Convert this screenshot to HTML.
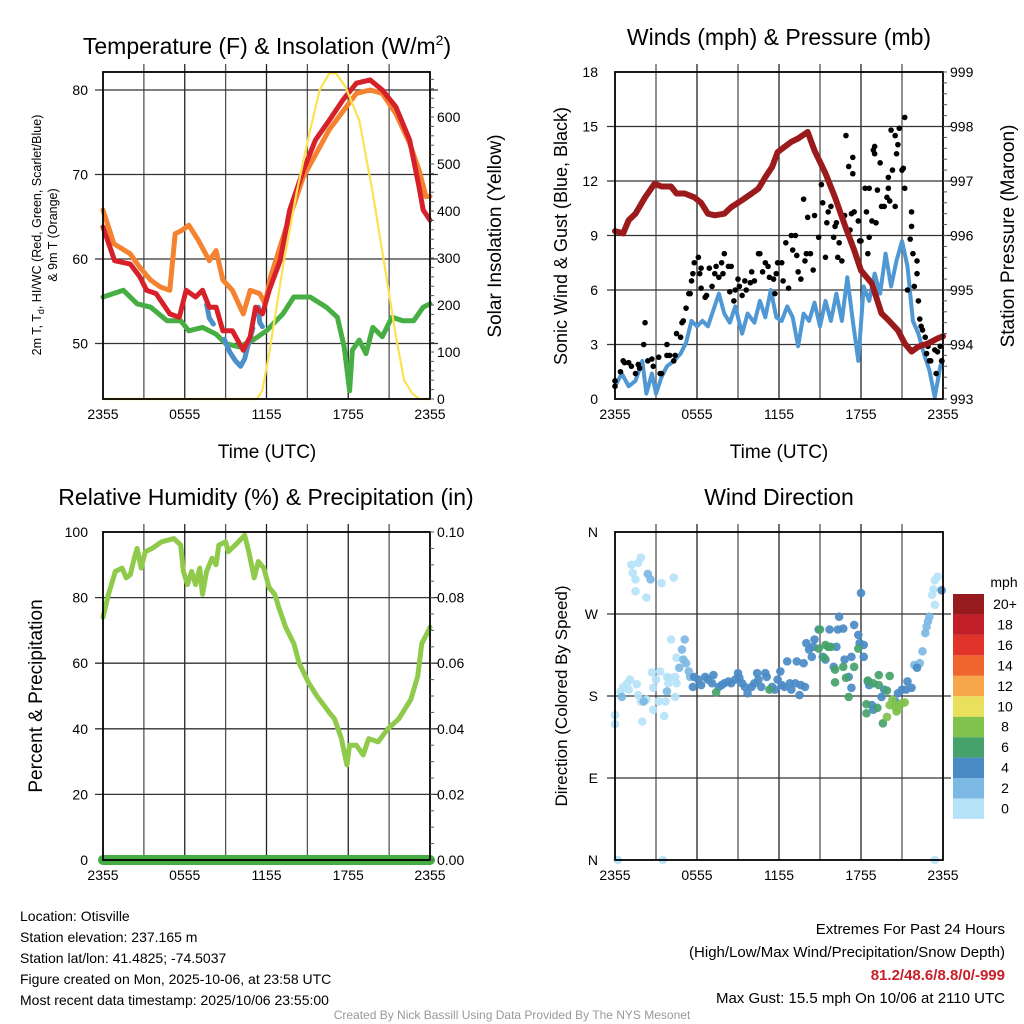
<!DOCTYPE html>
<html><head><meta charset="utf-8"><style>
html,body{margin:0;padding:0;background:#fff;}
svg{display:block;font-family:"Liberation Sans",Arial,sans-serif;}
</style></head><body>
<svg id="chart" width="1024" height="1024" viewBox="0 0 1024 1024" xmlns="http://www.w3.org/2000/svg">
<rect x="0" y="0" width="1024" height="1024" fill="#fff"/>
<g id="grid"></g><g id="series"></g><g id="axes"></g>
<!-- titles -->
<text x="267" y="54" font-size="23" text-anchor="middle">Temperature (F) &amp; Insolation (W/m<tspan dy="-9" font-size="14">2</tspan><tspan dy="9">)</tspan></text>
<text x="779" y="45" font-size="23" text-anchor="middle">Winds (mph) &amp; Pressure (mb)</text>
<text x="266" y="505" font-size="23" text-anchor="middle">Relative Humidity (%) &amp; Precipitation (in)</text>
<text x="779" y="505" font-size="23" text-anchor="middle">Wind Direction</text>
<!-- x titles -->
<text x="267" y="458" font-size="19" text-anchor="middle">Time (UTC)</text>
<text x="779" y="458" font-size="19" text-anchor="middle">Time (UTC)</text>
<!-- y titles -->
<text transform="translate(41,235) rotate(-90)" font-size="12.5" text-anchor="middle">2m T, T<tspan dy="3" font-size="9">d</tspan><tspan dy="-3">, HI/WC (Red, Green, Scarlet/Blue)</tspan></text>
<text transform="translate(57,235) rotate(-90)" font-size="12.5" text-anchor="middle">&amp; 9m T (Orange)</text>
<text transform="translate(501,236) rotate(-90)" font-size="19" text-anchor="middle">Solar Insolation (Yellow)</text>
<text transform="translate(567,236) rotate(-90)" font-size="18" text-anchor="middle">Sonic Wind &amp; Gust (Blue, Black)</text>
<text transform="translate(1014,236) rotate(-90)" font-size="19" text-anchor="middle">Station Pressure (Maroon)</text>
<text transform="translate(42,696) rotate(-90)" font-size="19" text-anchor="middle">Percent &amp; Precipitation</text>
<text transform="translate(567,696) rotate(-90)" font-size="17" text-anchor="middle">Direction (Colored By Speed)</text>
<!-- colorbar -->
<g id="colorbar"></g>
<text x="1004" y="587" font-size="14" text-anchor="middle">mph</text>
<!-- footer -->
<g font-size="14">
<text x="20" y="921">Location: Otisville</text>
<text x="20" y="942">Station elevation: 237.165 m</text>
<text x="20" y="963">Station lat/lon: 41.4825; -74.5037</text>
<text x="20" y="984">Figure created on Mon, 2025-10-06, at 23:58 UTC</text>
<text x="20" y="1005">Most recent data timestamp: 2025/10/06 23:55:00</text>
</g>
<g font-size="15" text-anchor="end">
<text x="1005" y="934">Extremes For Past 24 Hours</text>
<text x="1005" y="957">(High/Low/Max Wind/Precipitation/Snow Depth)</text>
<text x="1005" y="980" fill="#c8202a" font-weight="bold">81.2/48.6/8.8/0/-999</text>
<text x="1005" y="1003">Max Gust: 15.5 mph On 10/06 at 2110 UTC</text>
</g>
<text x="512" y="1019" font-size="12" fill="#999" text-anchor="middle">Created By Nick Bassill Using Data Provided By The NYS Mesonet</text>
</svg>
<script>
// ---------- data ----------
var xTickLabels = ["2355","0555","1155","1755","2355"];
var xTickHours = [0,6,12,18,24];

var tempHours = [0,0.85,2,2.7,3.2,3.9,4.9,5.6,6.1,6.8,7.3,7.8,8.3,8.8,9.5,10.3,10.8,11.2,11.7,12.2,13,13.7,14.7,15.6,16.6,17.6,18.6,19.6,20.5,21.5,22.5,23.2,23.5,24];
var tempRed = [63.8,59.8,59.4,57.9,56.3,55.9,53.5,53.1,56.3,55.5,56.3,54.3,54.3,51.5,51.5,49.2,50.8,54.3,53.5,56.3,59.8,65.8,70.5,74.1,76.4,78.8,80.8,81.2,80,78,74.1,68.5,65.8,64.6];

var orangeHours = [0,0.8,2,2.7,3.5,4.2,4.9,5.3,5.8,6.3,7,7.8,8.3,8.8,9.5,10.3,10.8,11.5,11.9,12.3,13.4,14.7,16.6,18.6,19.6,20.5,21.5,22.5,23.2,23.7,24];
var tempOrange = [65.8,61.8,60.6,59,57.5,56.7,56.3,63,63.4,64,62.2,59.8,61,57.5,56.3,53.5,56.3,55.9,54.7,57.9,63.5,69.7,75.3,79.6,80,79.6,77.2,73.7,70.5,67.4,67.4];

var greenHours = [0,1.5,2.5,3.5,4.7,5.7,6.3,7.3,8.3,9,10,11,12,13.2,14,15.2,16.4,17.2,17.7,18.1,18.3,18.8,19.3,19.8,20.5,21.2,22,22.8,23.5,24];
var tempDew = [55.5,56.3,54.7,54.3,52.7,52.7,51.5,51.9,51.1,50,49.6,50.4,51.5,53.5,55.5,55.5,54.3,53.1,49.6,44.4,49.2,50.4,48.8,51.9,50.8,53.1,52.7,52.7,54.3,54.7];

var chillHoursA = [7.6,7.8,8.1]; var chillA = [54.6,53.0,52.3];
var chillHoursB = [8.9,9.3,9.7,10.1,10.4,10.6,11.0]; var chillB = [50.5,49.0,48.0,47.3,48.2,49.5,51.8];
var chillHoursC = [11.4,11.5,11.7]; var chillC = [54.3,52.5,52.0];

var solarHours = [0,11.3,11.7,12.2,13.2,14.2,15.2,15.9,16.6,17.1,17.8,18.8,19.8,20.8,21.5,22.1,22.7,23.2,24];
var solar = [0,0,19,97,281,438,572,657,693,693,664,593,438,260,133,40,12,0,0];

var windHours = [0,0.5,1,1.5,2,2.3,2.7,3,3.4,3.8,4.3,4.8,5.2,5.6,6,6.4,6.8,7.2,7.6,8,8.4,8.8,9.3,9.7,10.2,10.6,11,11.4,11.8,12.2,12.6,13,13.4,13.8,14.2,14.6,15,15.4,15.8,16.2,16.6,17,17.4,17.8,18.2,18.6,19,19.4,19.8,20.2,20.6,21,21.4,21.8,22.2,22.6,23,23.4,23.8,24];
var windSpeed = [0.7,1.4,0.7,1.0,2.1,0.3,1.4,0.3,1.2,1.8,2.1,2.5,3.1,4.3,4.0,4.3,4.0,4.9,5.8,4.7,4.2,5.1,3.6,4.7,4.2,5.4,4.5,6.0,4.5,4.3,5.1,4.5,2.9,4.7,4.3,5.3,4.0,5.4,4.3,5.8,4.3,6.7,4.3,2.1,6.2,5.4,6.9,5.8,8.0,6.2,7.6,8.7,7.3,4.3,3.6,2.5,1.6,0.1,1.8,2.1];

var gustHours = [0.0,0.0,0.4,0.6,0.7,1.0,1.2,1.5,1.7,1.8,2.1,2.2,2.4,2.7,2.8,3.2,3.3,3.4,3.8,3.8,4.0,4.3,4.4,4.5,4.8,4.9,5.0,5.2,5.4,5.5,5.6,5.7,5.8,6.1,6.2,6.3,6.3,6.6,6.7,6.9,7.1,7.3,7.4,7.6,7.8,7.9,8.0,8.3,8.4,8.5,8.7,8.8,9.0,9.1,9.3,9.5,9.6,9.9,10.0,10.2,10.5,10.6,10.8,11.0,11.2,11.3,11.6,11.7,11.8,11.9,12.2,12.3,12.5,12.7,12.9,13.0,13.2,13.3,13.4,13.6,13.8,13.9,14.0,14.1,14.3,14.5,14.6,14.9,15.1,15.2,15.4,15.5,15.6,15.8,16.0,16.1,16.2,16.3,16.4,16.6,16.8,16.9,17.1,17.2,17.3,17.4,17.4,17.5,17.8,17.9,18.0,18.3,18.4,18.5,18.6,18.6,18.8,18.9,19.0,19.0,19.1,19.2,19.4,19.5,19.7,19.9,20.0,20.0,20.1,20.2,20.3,20.5,20.5,20.6,20.7,20.8,21.0,21.1,21.2,21.2,21.4,21.6,21.7,21.7,21.8,21.9,22.1,22.1,22.2,22.3,22.4,22.5,22.7,22.8,22.9,23.0,23.1,23.4,23.5,23.6,23.8,23.9];
var gustSpeed = [0.7,1.0,1.5,2.1,2.0,2.0,1.8,1.4,1.9,1.7,3.0,4.2,2.1,2.2,1.8,2.3,1.4,1.4,3.0,2.4,2.4,2.1,2.4,3.6,3.4,4.2,4.3,5.0,5.8,5.8,6.5,6.9,7.5,7.8,6.9,7.2,6.1,5.6,5.7,7.2,6.2,6.9,7.3,6.7,7.5,6.9,8.0,7.3,5.9,7.3,5.4,6.0,6.6,6.2,5.7,6.5,6.0,6.4,7.0,6.5,8.0,8.0,7.0,7.5,7.3,6.7,6.6,5.8,6.9,7.5,7.5,6.5,8.6,6.1,9.0,8.2,9.0,7.9,7.0,6.6,11.0,7.6,8.0,10.0,8.0,7.1,10.1,8.9,11.8,10.8,7.8,9.7,10.3,10.6,8.9,9.5,9.7,7.8,8.6,7.6,10.1,14.5,12.8,9.3,10.2,12.4,13.3,10.3,9.8,8.7,8.7,11.6,10.3,8.0,8.9,11.6,9.8,13.7,13.9,13.5,9.7,11.5,13.0,10.6,10.6,11.1,12.2,11.6,10.9,14.8,12.6,14.5,10.6,13.5,14.0,14.9,12.6,12.7,15.5,11.6,6.0,8.8,9.5,10.3,8.0,6.2,7.6,6.9,5.4,4.4,4.0,3.8,3.4,2.5,2.9,2.1,2.1,2.7,1.4,2.6,2.9,2.1];

var presHours = [0,0.6,1,1.5,2.2,2.9,3.4,4.1,4.5,5.1,5.8,6.3,6.8,7.3,8,8.5,9.3,10,10.5,11,11.5,11.9,12.9,13.4,14.1,14.6,15.4,16.1,16.8,17.5,18,18.8,19.5,20,20.7,21.2,21.7,22.2,22.9,23.6,24];
var pressure = [996.08,996.04,996.28,996.4,996.7,996.95,996.9,996.9,996.77,996.77,996.7,996.6,996.4,996.37,996.4,996.52,996.65,996.77,996.86,997.07,997.26,997.53,997.72,997.78,997.9,997.56,997.14,996.7,996.2,995.73,995.36,995.12,994.57,994.45,994.26,994.02,993.87,993.96,994.02,994.11,994.15];

var rhHours = [0,0.4,0.9,1.4,1.7,2.0,2.3,2.5,2.8,3.1,3.6,4.3,5.2,5.7,5.9,6.2,6.5,6.8,7.1,7.3,7.6,8.0,8.3,8.5,9.0,9.2,9.7,10.4,10.7,11.1,11.4,11.8,12.2,12.6,12.9,13.4,14.0,14.4,15.1,15.7,16.6,17.0,17.5,17.9,18.1,18.6,19.1,19.5,20.2,20.9,21.7,22.6,23.1,23.4,23.9,24];
var rh = [74,81,88,89,86,87,92,95,89,94,95,97,98,96,88,84,88,84,89,81,88,92,90,96,97,94,96,99,94,86,91,89,83,81,77,71,66,60,54,50,45,43,37,29,35,35,32,37,36,40,43,49,56,66,70,71];
var precipHours = [0,24];
var precip = [0,0];

var speedBins = [0,2,4,6,8,10,12,14,16,18,20];
var speedLabels = ["0","2","4","6","8","10","12","14","16","18","20+"];
var speedColors = ["#b6e3f8","#7cb9e4","#4a8bc6","#45a26a","#80c24c","#e9e05c","#f7a64a","#f0642e","#e0342a","#c1202a","#971a1e"];

var dirHours = [1.2,1.7,1.9,1.3,1.5,1.5,2.3,3.4,4.3,0.4,0.6,0.9,1.1,1.0,1.6,1.7,1.9,2.3,2.7,2.8,3.0,3.2,3.3,3.7,3.6,3.8,3.9,4.0,4.4,4.4,4.5,4.1,4.5,2.0,0.0,0.0,2.8,0.2,3.5,23.4,23.3,23.4,23.6,23.2,23.4,
 2.4,2.6,0.5,2.1,3.8,4.7,4.9,5.1,5.0,5.2,5.4,5.5,21.9,22.3,22.5,22.7,22.8,22.9,23.0,
 5.7,5.8,6.1,6.3,6.6,6.8,7.1,7.2,7.6,7.8,8.0,8.3,8.5,8.8,9.0,9.1,9.3,9.5,9.7,10.0,10.2,10.4,10.5,10.7,11.0,11.1,11.5,11.7,11.9,12.1,12.2,12.4,12.6,12.8,12.9,13.2,13.3,13.5,13.6,13.8,13.9,14.0,14.2,14.4,14.5,14.6,14.9,15.2,15.4,15.7,16.0,16.2,16.3,16.4,16.7,16.8,17.1,17.3,17.3,17.5,17.8,17.9,18.0,18.2,18.2,18.5,18.6,18.8,18.9,19.5,19.7,20.5,20.7,21.0,21.3,21.4,21.7,22.1,23.9,
 7.4,11.3,14.9,15.0,15.4,15.6,15.8,15.3,16.1,16.1,16.7,16.9,17.1,17.5,17.8,18.5,18.9,19.3,19.3,20.1,19.9,18.4,19.2,19.6,18.4,
 20.1,20.3,20.5,20.6,20.7,21.0,21.2,19.9,20.7];
var dirDeg = [324,326,332,315,308,295,288,304,310,185,190,194,198,187,193,181,174,176,206,189,198,174,207,174,158,201,194,200,201,179,194,242,222,152,149,159,165,0,0,0,297,307,311,291,280,
 314,308,179,174,185,211,231,242,220,216,207,201,214,216,229,249,256,262,267,
 190,201,198,192,201,198,194,203,190,192,194,196,194,198,205,200,194,190,183,190,194,205,198,190,205,201,190,187,198,207,192,190,218,194,187,194,218,181,192,216,190,238,231,223,234,242,253,223,220,253,212,234,253,267,254,220,201,223,189,258,247,238,293,236,223,196,192,170,165,179,187,174,183,187,187,196,189,211,296,
 184,187,232,253,236,234,234,222,209,195,212,200,179,212,232,197,194,192,203,202,186,171,167,150,161,
 170,176,168,163,170,172,173,157,165];
var dirSpeed = [1,1,1,1,1,1,1,1,1,1,1,1,1,1,1,1,1,1,1,1,1,1,1,1,1,1,1,1,1,1,1,1,1,1,1,1,1,1,1,1,1,1,1,1,1,
 3,3,3,3,3,3,3,3,3,3,3,3,3,3,3,3,3,3,3,
 5,5,5,5,5,5,5,5,5,5,5,5,5,5,5,5,5,5,5,5,5,5,5,5,5,5,5,5,5,5,5,5,5,5,5,5,5,5,5,5,5,5,5,5,5,5,5,5,5,5,5,5,5,5,5,5,5,5,5,5,5,5,5,5,5,5,5,5,5,5,5,5,5,5,5,5,5,5,5,
 7,7,7,7,7,7,7,7,7,7,7,7,7,7,7,7,7,7,7,7,7,7,7,7,7,
 9,9,9,9,9,9,9,9,9];

var dirTickLabels = ["N","E","S","W","N"];
var dirTickDeg = [0,90,180,270,360];

// ---------- helpers ----------
var NS = "http://www.w3.org/2000/svg";
function mk(tag, attrs, parent){var e=document.createElementNS(NS,tag);for(var k in attrs)e.setAttribute(k,attrs[k]);(parent||document.getElementById('series')).appendChild(e);return e;}
function lin(d0,d1,r0,r1){return function(v){return r0+(v-d0)*(r1-r0)/(d1-d0);};}
var panels = {
 p1:{x0:103,x1:430,y0:72,y1:399},
 p2:{x0:615,x1:943,y0:72,y1:399},
 p3:{x0:103,x1:430,y0:532,y1:860},
 p4:{x0:615,x1:943,y0:532,y1:860}
};
function xs(p){return lin(0,24,p.x0,p.x1);}
var P1=panels.p1,P2=panels.p2,P3=panels.p3,P4=panels.p4;
var x1s=xs(P1), x2s=xs(P2), x3s=xs(P3), x4s=xs(P4);
var tempY=lin(50,80,343.5,90), solarY=lin(0,600,399,117);
var windY=lin(0,18,399,72), presY=lin(993,999,399,72);
var rhY=lin(0,100,860,532), precipY=lin(0,0.1,860,532);
var dirY=lin(0,360,860,532);

function pathOf(hs,vs,xf,yf){var d="";for(var i=0;i<hs.length;i++){d+=(i?"L":"M")+xf(hs[i]).toFixed(1)+","+yf(vs[i]).toFixed(1);}return d;}

var grid=document.getElementById('grid'), axes=document.getElementById('axes');
function panelGrid(p,hvals,yf){
  for(var h=3;h<24;h+=3){var gx=xs(p)(h);
    var l=mk('line',{x1:gx,y1:p.y0-8,x2:gx,y2:p.y1,stroke:(h%6==0?'#222':'#555'),'stroke-width':1.3},grid);
    
    }
  hvals.forEach(function(v){var gy=yf(v);
    var l=mk('line',{x1:p.x0-8,y1:gy,x2:p.x1+8,y2:gy,stroke:'#333','stroke-width':1.3},grid);
    
    });
  var f=mk('rect',{x:p.x0,y:p.y0,width:p.x1-p.x0,height:p.y1-p.y0,fill:'none',stroke:'#000','stroke-width':1.8},axes);
  
  
  xTickHours.forEach(function(h,i){var t=mk('text',{x:xs(p)(h),y:p.y1+20,'font-size':14,'text-anchor':'middle'},axes);t.textContent=xTickLabels[i];
    
    });
}
function yLabels(vals,yf,x,anchor,fmt){vals.forEach(function(v){var t=mk('text',{x:x,y:yf(v)+5,'font-size':14,'text-anchor':anchor},axes);t.textContent=fmt?fmt(v):v;
  
  });}
function rightTicks(p,vals,yf,len){vals.forEach(function(v){var y=yf(v);var l=mk('line',{x1:p.x1,y1:y,x2:p.x1+len,y2:y,stroke:'#555','stroke-width':1},axes);
  
  });}

// panel 1
panelGrid(P1,[50,60,70,80],tempY);
yLabels([50,60,70,80],tempY,88,'end');
yLabels([0,100,200,300,400,500,600],solarY,437,'start');
var minor=[];for(var w=0;w<=680;w+=20)minor.push(w);rightTicks(P1,minor,solarY,4);
// panel 2
panelGrid(P2,[3,6,9,12,15],windY);
yLabels([0,3,6,9,12,15,18],windY,598,'end');
yLabels([993,994,995,996,997,998,999],presY,950,'start');
var pm=[];for(var q=993;q<=999.01;q+=0.2)pm.push(q);rightTicks(P2,pm,presY,4);
// panel 3
panelGrid(P3,[20,40,60,80],rhY);
yLabels([0,20,40,60,80,100],rhY,88,'end');
yLabels([0,0.02,0.04,0.06,0.08,0.1],precipY,437,'start',function(v){return v.toFixed(2);});
var rm=[];for(var r=0;r<=0.1001;r+=0.005)rm.push(r);rightTicks(P3,rm,precipY,4);
// panel 4
panelGrid(P4,[90,180,270],dirY);
dirTickDeg.forEach(function(d,i){var t=mk('text',{x:598,y:dirY(d)+5,'font-size':14,'text-anchor':'end'},axes);t.textContent=dirTickLabels[i];
  
  });

// ---------- series ----------
function line(hs,vs,xf,yf,color,w,name){var e=mk('path',{d:pathOf(hs,vs,xf,yf),fill:'none',stroke:color,'stroke-width':w,'stroke-linejoin':'round','stroke-linecap':'round'});
  
  return e;}
line(greenHours,tempDew,x1s,tempY,'#46ae42',5,'dewpoint-line');
line(orangeHours,tempOrange,x1s,tempY,'#f5822e',5,'temp-9m-line');
line(chillHoursA,chillA,x1s,tempY,'#4c90cb',5,'windchill-line');
line(chillHoursB,chillB,x1s,tempY,'#4c90cb',5,'windchill-line');
line(chillHoursC,chillC,x1s,tempY,'#4c90cb',5,'windchill-line');
line(tempHours,tempRed,x1s,tempY,'#d7212a',5,'temp-2m-line');
line(solarHours,solar,x1s,solarY,'#fce150',2.2,'insolation-line');

line(windHours,windSpeed,x2s,windY,'#4f98d4',4,'sonic-wind-line');
for(var i=0;i<gustHours.length;i++){var c=mk('circle',{cx:x2s(gustHours[i]),cy:windY(gustSpeed[i]),r:2.8,fill:'#000'});
  
  }
line(presHours,pressure,x2s,presY,'#9b1b1c',6,'pressure-line');

line(rhHours,rh,x3s,rhY,'#8fca4b',5,'humidity-line');
line(precipHours,precip,x3s,precipY,'#45ab43',10,'precipitation-line');

function speedColor(s){var k=0;for(var j=0;j<speedBins.length;j++){if(s>=speedBins[j])k=j;}return speedColors[k];}
for(var i=0;i<dirHours.length;i++){var c=mk('circle',{cx:x4s(dirHours[i]),cy:dirY(dirDeg[i]),r:4.3,fill:speedColor(dirSpeed[i]),'fill-opacity':0.92});
  
  }

// colorbar
var cb=document.getElementById('colorbar');
for(var k=0;k<speedColors.length;k++){var swTop=594+(10-k)*20.45;
  var sw=mk('rect',{x:953,y:swTop,width:31,height:20.45,fill:speedColors[k]},cb);
  
  
  var t=mk('text',{x:1005,y:swTop+15,'font-size':14,'text-anchor':'middle'},cb);t.textContent=speedLabels[k];
  
  }
</script>
</body></html>
